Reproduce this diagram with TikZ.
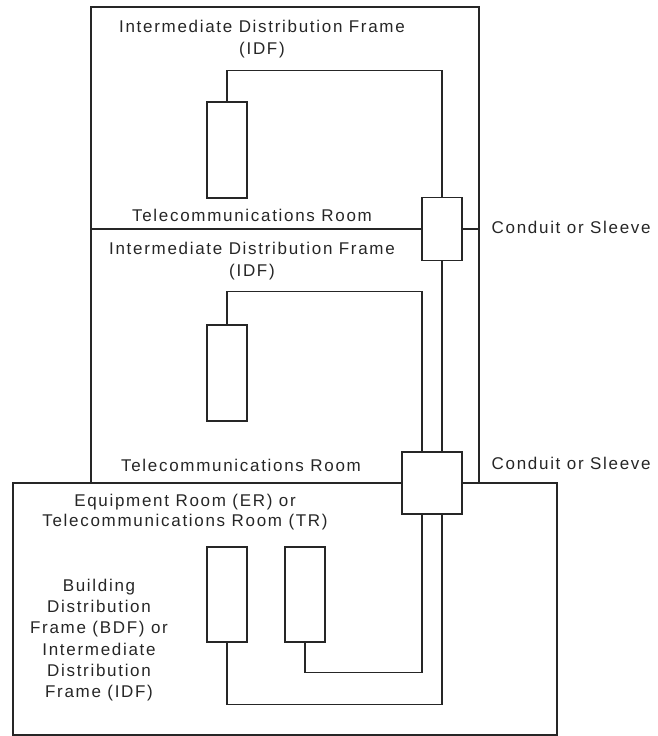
\documentclass[tikz,border=0pt]{standalone}
\usepackage{fontspec}
\setmainfont{Liberation Sans}[LetterSpace=10]
\usepackage{tikz}

\tikzset{
  rack/.style={draw, rectangle, minimum width=40pt, minimum height=96pt, inner sep=0pt},
  sleeve/.style={draw, rectangle, minimum width=40pt, minimum height=63pt, inner sep=0pt},
  wall/.style={draw, line width=1.5pt},
  cable/.style={draw, line width=1.4pt},
  roomtext/.style={inner sep=0pt, align=center, font=\fontsize{17}{22}\selectfont}
}

\begin{document}
\begin{tikzpicture}[x=1pt, y=-1pt, line width=1.4pt, color=black!85]
  \useasboundingbox (0,0) rectangle (657,736);

  % frames and conduits
  \node[rack] (idfA) at (227,150) {};
  \node[rack] (idfB) at (227,373) {};
  \node[rack, minimum height=95pt] (bdfA) at (227,594.5) {};
  \node[rack, minimum height=95pt] (bdfB) at (305,594.5) {};
  \node[sleeve] (sleeveA) at (442,229) {};
  \node[sleeve, minimum width=60pt, minimum height=62pt] (sleeveB) at (432,483) {};

  % walls
  \draw[wall] (91,483) -- (91,7) -- (479,7) -- (479,483);
  \draw[wall] (91,229) -- (sleeveA.west);
  \draw[wall] (sleeveA.east) -- (479,229);
  \draw[wall] (sleeveB.west) -- (13,483) -- (13,735) -- (557,735) -- (557,483) -- (sleeveB.east);

  % cables
  \draw[cable] (idfA.north) -- ++(0,-31) -| (sleeveA.north);
  \draw[cable] (sleeveA.south) -- (sleeveA.south |- sleeveB.north);
  \draw[cable] (idfB.north) -- ++(0,-33) -| ([xshift=-10pt]sleeveB.north);
  \draw[cable] ([xshift=10pt]sleeveB.south) -- ++(0,190) -| (bdfA.south);
  \draw[cable] ([xshift=-10pt]sleeveB.south) -- ++(0,158) -| (bdfB.south);

  % labels
  \node[roomtext] (idfAtext) at (262,39.5) {Intermediate Distribution Frame\\(IDF)};
  \node[roomtext] (trAtext) at (252,215) {Telecommunications Room};
  \node[roomtext, anchor=west] (sleeveAtext) at (491,227) {Conduit or Sleeve};
  \node[roomtext] (idfBtext) at (252,261) {Intermediate Distribution Frame\\(IDF)};
  \node[roomtext] (trBtext) at (241,465) {Telecommunications Room};
  \node[roomtext, anchor=west] (sleeveBtext) at (491,463) {Conduit or Sleeve};
  \node[roomtext, font=\fontsize{17}{20.5}\selectfont] (ertext) at (185,512) {Equipment Room (ER) or\\Telecommunications Room (TR)};
  \node[roomtext, font=\fontsize{17}{21.2}\selectfont] (bdftext) at (99,640) {Building\\Distribution\\Frame (BDF) or\\Intermediate\\Distribution\\Frame (IDF)};
\end{tikzpicture}
\end{document}
